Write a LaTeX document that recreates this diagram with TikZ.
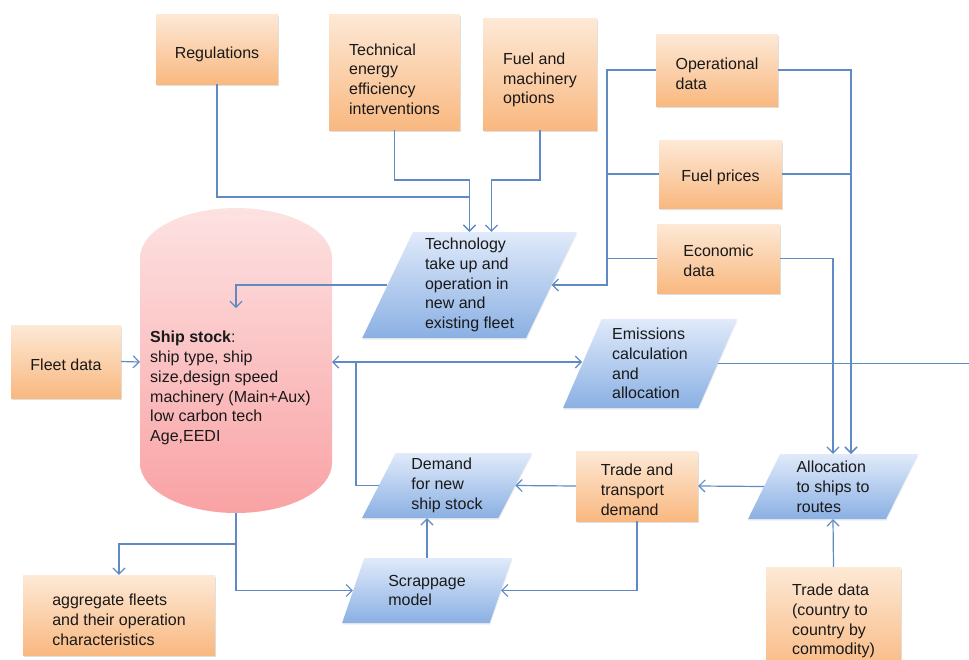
\documentclass[tikz,border=0pt]{standalone}
\usepackage{fontspec}
\setmainfont{Liberation Sans}
\usepackage{xcolor}
\usetikzlibrary{arrows.meta}
\usetikzlibrary{shapes.geometric}
\usetikzlibrary{calc, shadows}
\definecolor{myorangetop}{RGB}{253,233,214}
\definecolor{myorangebot}{RGB}{249,184,128}
\definecolor{mybluetop}{RGB}{224,234,250}
\definecolor{mybluebot}{RGB}{138,176,227}
\definecolor{mypinktop}{RGB}{253,226,226}
\definecolor{mypinkbot}{RGB}{249,162,164}
\definecolor{myline}{RGB}{96,138,196}
\definecolor{mytext}{RGB}{25,25,25}

\begin{document}
\begin{tikzpicture}[x=1pt, y=-1pt, font=\fontsize{16}{19.8}\selectfont,
  inbox/.style={top color=myorangetop, bottom color=myorangebot, text=mytext, align=left, inner sep=2pt,
    drop shadow={opacity=0.25, shadow xshift=0.5pt, shadow yshift=-1.5pt}},
  process/.style={trapezium, trapezium left angle=67, trapezium right angle=113, trapezium stretches=true,
    top color=mybluetop, bottom color=mybluebot, text=mytext, align=left, inner sep=1pt,
    drop shadow={opacity=0.15, shadow xshift=0.5pt, shadow yshift=-1.5pt}},
  conn/.style={myline, line width=1.2pt},
  arr/.style={conn, -{Straight Barb[length=6pt, width=12pt]}},
  arrs/.style={conn, {Straight Barb[length=6pt, width=12pt]}-{Straight Barb[length=6pt, width=12pt]}}]
  \useasboundingbox (0,0) rectangle (969,659);

  %The ship stock cylinder:
  \shade[top color=mypinktop, bottom color=mypinkbot] (140,258) arc[start angle=180, end angle=360, x radius=96, y radius=50]
    -- (332,463) arc[start angle=0, end angle=180, x radius=96, y radius=50] -- cycle;
  \node[anchor=west, align=left, text=mytext, inner sep=2pt] (stock) at (148,388)
    {\textbf{Ship stock}:\\ship type, ship\\size,design speed\\machinery (Main+Aux)\\low carbon tech\\Age,EEDI};
  \coordinate (stockL) at (140,362);
  \coordinate (stockR) at (332,362);
  \coordinate (stockT) at (236,308);
  \coordinate (stockB) at (236,513);

  %The input boxes (text height only pushes the text a bit down):
  \node[inbox, text height=21.7pt, minimum width=122pt, minimum height=70pt] (reg) at (217,49) {Regulations};
  \node[inbox, text height=85pt, minimum width=131pt, minimum height=116pt] (tei) at (394.5,72) {Technical\\energy\\efficiency\\interventions};
  \node[inbox, text height=63.3pt, minimum width=114pt, minimum height=112pt] (fmo) at (540,74) {Fuel and\\machinery\\options};
  \node[inbox, text height=39.5pt, minimum width=122pt, minimum height=72pt] (opd) at (717,70) {Operational\\data};
  \node[inbox, text height=17.7pt, minimum width=123pt, minimum height=68pt] (fpr) at (720.5,174) {Fuel prices};
  \node[inbox, text height=36.5pt, minimum width=123pt, minimum height=69pt] (eco) at (718.5,258.5) {Economic\\data};
  \node[inbox, text height=18.7pt, minimum width=110pt, minimum height=73pt] (fleet) at (66,361.5) {Fleet data};
  \node[inbox, text height=59.3pt, minimum width=122pt, minimum height=70pt] (ttd) at (637,486) {Trade and\\transport\\demand};
  \node[inbox, text height=61.3pt, minimum width=192pt, minimum height=80pt] (agg) at (119,615) {aggregate fleets\\and their operation\\characteristics};
  \node[inbox, minimum width=135pt, minimum height=108pt] (tdat) at (833.5,621) {Trade data\\(country to\\country by\\commodity)};

  %The process steps:
  \node[process, minimum width=215pt, minimum height=106pt] (tech) at (469.5,285) {Technology\\take up and\\operation in\\new and\\existing fleet};
  \node[process, minimum width=174pt, minimum height=89pt] (emis) at (650,363.5) {Emissions\\calculation\\and\\allocation};
  \node[process, minimum width=170pt, minimum height=65pt] (alloc) at (833,486.5) {Allocation\\to ships to\\routes};
  \node[process, minimum width=170pt, minimum height=65pt] (dem) at (447,485.5) {Demand\\for new\\ship stock};
  \node[process, minimum width=170pt, minimum height=65pt] (scrap) at (427,590.5) {Scrappage\\model};

  %Inputs into the technology step:
  \draw[arr] (reg.south) |- (tech.center |- 0,197) -- (tech.center |- tech.north);
  \draw[arr] (tei.south) |- (tech.center |- 0,180) -- (tech.center |- tech.north);
  \draw[arr] (fmo.south) |- ($(tech.center |- 0,180)+(22,0)$) -- ($(tech.center |- tech.north)+(22,0)$);
  \coordinate (bus) at (607,0);
  \draw[arr] (opd.west) -| (bus |- tech.east) -- (tech.east);
  \draw[conn] (fpr.west) -| (bus |- tech.east);
  \draw[conn] (eco.west) -| (bus |- tech.east);
  \draw[arr] (tech.west) -| (stockT);

  %Inputs into the allocation step:
  \draw[arr] (opd.east) -| ($(alloc.center |- alloc.north)+(18,0)$);
  \draw[arr] (fpr.east) -| ($(alloc.center |- alloc.north)+(18,0)$);
  \draw[arr] (eco.east) -| (alloc.center |- alloc.north);
  \draw[arr] (tdat.north) -- (alloc.center |- alloc.south);

  %Ship stock links:
  \draw[arr] (fleet.east) -- (stockL);
  \draw[arrs] (stockR) -- (stockR -| emis.west);
  \draw[conn] (emis.east) -- (emis.east -| 975,0);
  \draw[conn] (dem.west) -| ($(stockR)+(24,0)$);
  \draw[arr] (stockB) |- (agg.north |- 0,544) -- (agg.north);
  \draw[arr] (stockB) |- (scrap.west);

  %Demand chain:
  \draw[arr] (alloc.west) -- (ttd.east);
  \draw[arr] (ttd.west) -- (dem.east);
  \draw[arr] (ttd.south) |- (scrap.east);
  \draw[arr] (scrap.center |- scrap.north) -- (scrap.center |- dem.south);
\end{tikzpicture}
\end{document}
